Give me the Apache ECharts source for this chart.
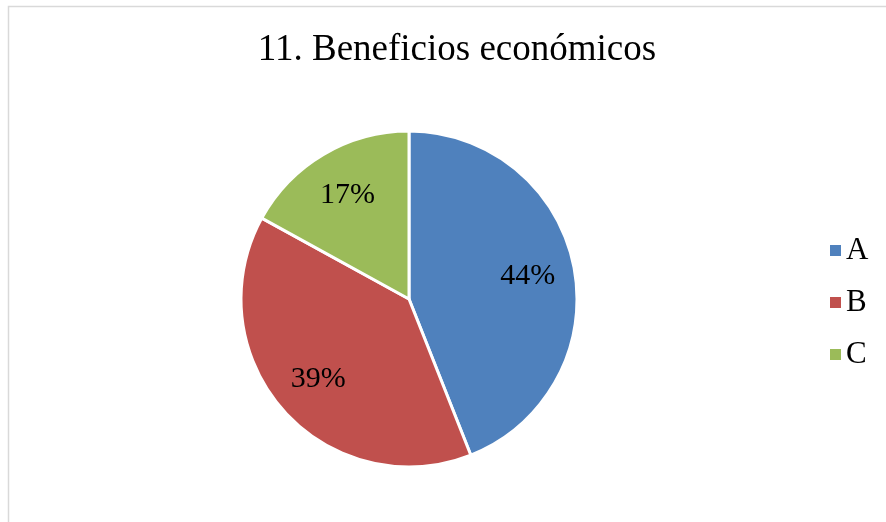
<!DOCTYPE html>
<html><head><meta charset="utf-8">
<script src="https://cdn.jsdelivr.net/npm/echarts@6/dist/echarts.min.js"></script>
<style>html,body{margin:0;padding:0;background:#fff}#c{width:886px;height:522px}</style>
</head><body><div id="c"></div>
<script>
const categories = ['A', 'B', 'C'];
const values = [44, 39, 17];
const colors = ['#4F81BD', '#C0504D', '#9BBB59'];
const titleText = '11. Beneficios económicos';

const chart = echarts.init(document.getElementById('c'));
const data = categories.map((n, i) => ({ name: n, value: values[i], itemStyle: { color: colors[i] } }));
const font = '"Liberation Serif", "Times New Roman", serif';
chart.setOption({
  animation: false,
  graphic: [{
    type: 'rect', silent: true,
    shape: { x: 8.5, y: 6.5, width: 900, height: 600 },
    style: { fill: 'none', stroke: '#d9d9d9', lineWidth: 1.5 }
  }],
  title: {
    text: titleText, left: 452, top: 27, textAlign: 'center',
    textStyle: { fontFamily: font, fontSize: 37, fontWeight: 'normal', color: '#000' }
  },
  legend: {
    orient: 'vertical', left: 825, top: 230,
    itemWidth: 11, itemHeight: 11, itemGap: 21,
    icon: 'rect',
    itemStyle: { borderWidth: 0 },
    data: categories,
    textStyle: { fontFamily: font, fontSize: 31, color: '#000', padding: [0, 0, 0, 0] }
  },
  series: [{
    type: 'pie', center: [409, 299], radius: [0, 168],
    startAngle: 90, clockwise: true, silent: true,
    data: data,
    itemStyle: { borderColor: '#fff', borderWidth: 3 },
    label: { show: false }, labelLine: { show: false }
  }, {
    type: 'pie', center: [409, 299], radius: [68, 168],
    startAngle: 90, clockwise: true, silent: true,
    data: data.map(d => ({ name: d.name, value: d.value, itemStyle: { color: 'rgba(0,0,0,0)' } })),
    itemStyle: { borderWidth: 0 },
    label: { show: true, position: 'inside', formatter: p => Math.round(p.percent) + '%', fontFamily: font, fontSize: 30, color: '#000' },
    labelLine: { show: false }
  }]
});
</script></body></html>
